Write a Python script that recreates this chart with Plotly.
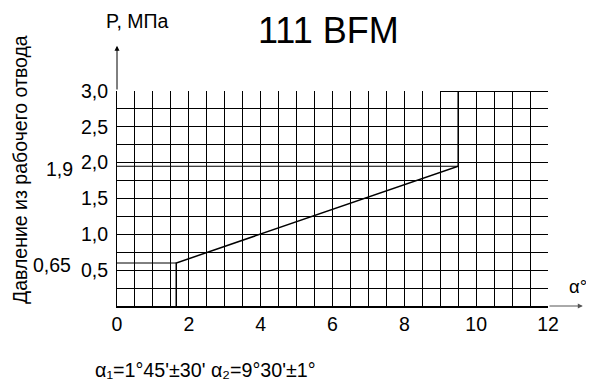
import plotly.graph_objects as go

# Data
curve_x = [1.65, 1.65, 9.5, 9.5]
curve_y = [0.0, 0.6, 1.95, 3.0]
top_x = [9.0, 12.0]
top_y = [3.0, 3.0]
ref1_x = [0.0, 1.65]
ref1_y = [0.6, 0.6]
ref2_x = [0.0, 9.5]
ref2_y = [1.95, 1.95]
y_tickvals = [0.5, 1.0, 1.5, 2.0, 2.5, 3.0]
y_ticktext = ["0,5", "1,0", "1,5", "2,0", "2,5", "3,0"]
x_tickvals = [0, 2, 4, 6, 8, 10, 12]
x_ticktext = ["0", "2", "4", "6", "8", "10", "12"]

FONT = "Arial, Liberation Sans, sans-serif"
fig = go.Figure()
for xs, ys, w in [(ref1_x, ref1_y, 1), (ref2_x, ref2_y, 1), (curve_x, curve_y, 1.5), (top_x, top_y, 2)]:
    fig.add_trace(go.Scatter(x=xs, y=ys, mode="lines", line=dict(color="black", width=w),
                             showlegend=False, hoverinfo="skip", cliponaxis=False))

# page body has an 8px margin, so the figure is sized/offset to compensate
fig.update_layout(
    width=586, height=375,
    margin=dict(l=109, r=46, t=83, b=77),
    paper_bgcolor="white", plot_bgcolor="white",
    font=dict(family=FONT, color="black", size=19),
    showlegend=False,
)
fig.update_xaxes(
    range=[0, 12], tickmode="array", tickvals=x_tickvals, ticktext=x_ticktext,
    showgrid=True, gridcolor="black", gridwidth=1, zeroline=False,
    showline=True, linecolor="black", linewidth=2,
    ticks="", tickfont=dict(size=19.5, family=FONT),
    minor=dict(tickmode="linear", tick0=0, dtick=0.5, showgrid=True, gridcolor="black", gridwidth=1),
)
fig.update_yaxes(
    range=[0, 3], tickmode="array", tickvals=y_tickvals, ticktext=y_ticktext,
    showgrid=True, gridcolor="black", gridwidth=1, zeroline=False,
    showline=True, linecolor="black", linewidth=1,
    ticks="", tickfont=dict(size=19.5, family=FONT), ticklabelstandoff=4,
    minor=dict(tickmode="linear", tick0=0, dtick=0.25, showgrid=True, gridcolor="black", gridwidth=1),
)

# axis arrows
fig.add_annotation(x=0, y=3.63, ax=0, ay=3.0, xref="x", yref="y", axref="x", ayref="y",
                   showarrow=True, arrowhead=2, arrowsize=1, arrowwidth=1, arrowcolor="black", text="")
fig.add_annotation(x=12.97, y=0, ax=12.0, ay=0, xref="x", yref="y", axref="x", ayref="y",
                   showarrow=True, arrowhead=2, arrowsize=1, arrowwidth=1, arrowcolor="#555", text="")

# texts (positions relative to plot area: left 117px, bottom 306px, 431x215 in the window)
fig.add_annotation(text="111 BFM", xref="paper", yref="paper", x=(328 - 117) / 431, y=(306 - 30) / 215,
                   showarrow=False, font=dict(size=36, family=FONT), xanchor="center", yanchor="middle")
fig.add_annotation(text="P, МПа", xref="paper", yref="paper", x=(104 - 117) / 431, y=(306 - 21) / 215,
                   showarrow=False, font=dict(size=19.5, family=FONT), xanchor="left", yanchor="middle")
fig.add_annotation(text="Давление из рабочего отвода", xref="paper", yref="paper",
                   x=(20 - 117) / 431, y=(306 - 170) / 215, textangle=-90,
                   showarrow=False, font=dict(size=19.5, family=FONT), xanchor="center", yanchor="middle")
fig.add_annotation(text="1,9", xref="paper", yref="paper", x=(75 - 117) / 431, y=(306 - 169) / 215,
                   showarrow=False, font=dict(size=19.5, family=FONT), xanchor="right", yanchor="middle")
fig.add_annotation(text="0,65", xref="paper", yref="paper", x=(73 - 117) / 431, y=(306 - 265) / 215,
                   showarrow=False, font=dict(size=19.5, family=FONT), xanchor="right", yanchor="middle")
fig.add_annotation(text="α°", xref="paper", yref="paper", x=(567 - 117) / 431, y=(306 - 286) / 215,
                   showarrow=False, font=dict(size=18.5, family=FONT), xanchor="left", yanchor="middle")
fig.add_annotation(text="α₁=1°45'±30' α₂=9°30'±1°", xref="paper", yref="paper",
                   x=(93 - 117) / 431, y=(306 - 370) / 215,
                   showarrow=False, font=dict(size=19.7, family=FONT), xanchor="left", yanchor="middle")

fig.write_html("out.html")
